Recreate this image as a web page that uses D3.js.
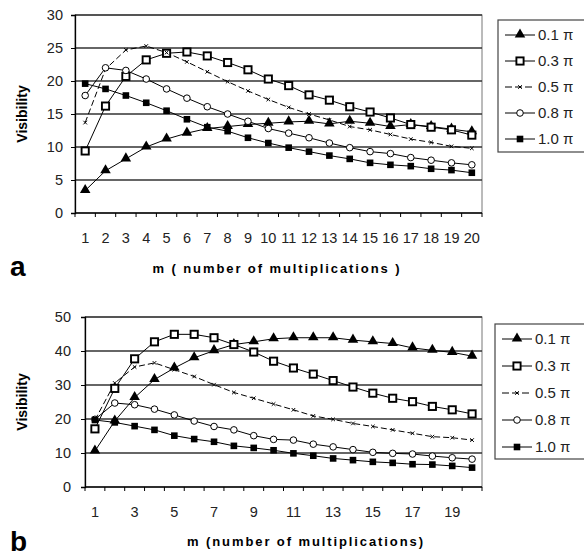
<!DOCTYPE html>
<html>
<head>
<meta charset="utf-8">
<script src="https://cdn.jsdelivr.net/npm/d3@7"></script>
<style>
  body { margin: 0; background: #fff; }
  svg { display: block; font-family: "Liberation Sans", Arial, sans-serif; }
</style>
</head>
<body>
<svg id="chart" width="584" height="556"></svg>
<script>
// categories (m = number of multiplications)
const mValues = [1, 2, 3, 4, 5, 6, 7, 8, 9, 10, 11, 12, 13, 14, 15, 16, 17, 18, 19, 20];
const bTickLabels = [1, 3, 5, 7, 9, 11, 13, 15, 17, 19];
const seriesNames = ["0.1 π", "0.3 π", "0.5 π", "0.8 π", "1.0 π"];
const yTicksA = [0, 5, 10, 15, 20, 25, 30];
const yTicksB = [0, 10, 20, 30, 40, 50];

// panel a
const a01 = [3.4, 6.4, 8.2, 10.0, 11.2, 12.1, 12.8, 13.1, 13.4, 13.6, 13.8, 13.9, 13.5, 13.9, 13.6, 13.1, 13.4, 13.1, 12.7, 12.3];
const a03 = [9.4, 16.2, 20.7, 23.2, 24.2, 24.4, 23.8, 22.8, 21.7, 20.3, 19.3, 17.9, 17.1, 16.1, 15.3, 14.4, 13.4, 13.0, 12.6, 11.8];
const a05 = [13.7, 21.8, 24.7, 25.3, 24.3, 22.9, 21.4, 19.9, 18.5, 17.2, 16.0, 15.0, 14.1, 13.1, 12.6, 11.9, 11.2, 10.7, 10.1, 9.8];
const a08 = [17.8, 22.0, 21.6, 20.3, 18.8, 17.4, 16.1, 15.0, 13.9, 12.8, 12.1, 11.4, 10.6, 9.9, 9.3, 9.0, 8.4, 8.0, 7.6, 7.3];
const a10 = [19.6, 18.8, 17.8, 16.7, 15.5, 14.2, 13.0, 12.4, 11.4, 10.6, 9.9, 9.3, 8.7, 8.2, 7.6, 7.3, 7.1, 6.7, 6.5, 6.1];

// panel b
const b01 = [10.6, 19.4, 26.3, 31.6, 35.0, 38.0, 40.1, 41.9, 42.7, 43.6, 43.9, 43.9, 43.9, 43.2, 42.7, 42.2, 40.9, 40.2, 39.6, 38.5];
const b03 = [17.1, 29.0, 37.7, 42.7, 44.9, 44.9, 43.9, 41.9, 39.7, 37.0, 35.0, 33.2, 31.3, 29.4, 27.6, 26.1, 25.1, 23.7, 22.7, 21.5];
const b05 = [19.7, 30.6, 35.3, 36.5, 34.5, 32.5, 30.1, 27.8, 26.1, 24.4, 22.7, 20.9, 19.9, 18.7, 17.8, 16.8, 15.8, 14.8, 14.5, 13.8];
const b08 = [19.9, 24.7, 24.2, 22.9, 21.2, 19.4, 17.8, 16.8, 15.1, 14.0, 13.8, 12.6, 11.8, 11.0, 10.2, 9.9, 9.7, 9.1, 8.6, 8.2];
const b10 = [19.7, 19.0, 17.9, 16.8, 15.1, 14.1, 13.3, 12.1, 11.5, 10.8, 9.9, 9.2, 8.4, 7.9, 7.4, 7.1, 6.7, 6.6, 6.2, 5.7];

const markerTypes = ["triangle", "openSquare", "cross", "circle", "square"];

const svg = d3.select("#chart");

function drawMarker(g, type, x, y) {
    if (type == "triangle") {
        g.append("path")
            .attr("d", d3.symbol().type(d3.symbolTriangle).size(48)())
            .attr("transform", "translate(" + x + "," + (y - 0.5) + ")")
            .attr("fill", "#000");
    } else if (type == "openSquare") {
        g.append("rect")
            .attr("x", x - 3.6).attr("y", y - 3.6)
            .attr("width", 7.2).attr("height", 7.2)
            .attr("fill", "#fff").attr("stroke", "#000").attr("stroke-width", 1.9);
    } else if (type == "cross") {
        g.append("path")
            .attr("d", "M" + (x - 1.8) + "," + (y - 1.8) + "L" + (x + 1.8) + "," + (y + 1.8) +
                "M" + (x + 1.8) + "," + (y - 1.8) + "L" + (x - 1.8) + "," + (y + 1.8))
            .attr("stroke", "#000").attr("stroke-width", 1);
    } else if (type == "circle") {
        g.append("circle")
            .attr("cx", x).attr("cy", y).attr("r", 3.3)
            .attr("fill", "#fff").attr("stroke", "#000").attr("stroke-width", 1);
    } else {
        g.append("rect")
            .attr("x", x - 3.3).attr("y", y - 3.3)
            .attr("width", 6.6).attr("height", 6.6)
            .attr("fill", "#000");
    }
}

function drawPanel(p) {
    const g = svg.append("g");
    const x = d3.scaleBand().domain(mValues).range([p.left, p.right]);
    const y = d3.scaleLinear().domain([0, p.yMax]).range([p.bottom, p.top]);

    // plot frame (top / right in grey)
    g.append("rect")
        .attr("x", p.left).attr("y", p.top)
        .attr("width", p.right - p.left).attr("height", p.bottom - p.top)
        .attr("fill", "none").attr("stroke", "#777").attr("stroke-width", 1);

    // gridlines
    g.selectAll(".grid")
        .data(p.yTicks.filter(d => d > 0))
        .enter().append("line")
        .attr("x1", p.left).attr("x2", p.right)
        .attr("y1", d => y(d)).attr("y2", d => y(d))
        .attr("stroke", "#333").attr("stroke-width", 1.3);

    // y axis
    const yAxis = d3.axisLeft(y).tickValues(p.yTicks).tickSize(4).tickPadding(p.yPad);
    const ya = g.append("g").attr("transform", "translate(" + p.left + ",0)").call(yAxis);
    ya.select(".domain").attr("stroke", "#000").attr("stroke-width", 1.3);
    ya.selectAll("text").attr("font-size", 14.5).attr("fill", "#222");

    // x axis: ticks on band boundaries
    g.append("line")
        .attr("x1", p.left).attr("x2", p.right)
        .attr("y1", p.bottom).attr("y2", p.bottom)
        .attr("stroke", "#000").attr("stroke-width", 1.3);
    const bounds = mValues.map(d => x(d)).concat([p.right]);
    g.selectAll(".xt")
        .data(bounds)
        .enter().append("line")
        .attr("x1", d => d).attr("x2", d => d)
        .attr("y1", p.bottom).attr("y2", p.bottom + 4)
        .attr("stroke", "#000").attr("stroke-width", 1);
    g.selectAll(".xl")
        .data(p.xLabels)
        .enter().append("text")
        .attr("x", d => x(d) + x.bandwidth() / 2)
        .attr("y", p.bottom + 30)
        .attr("text-anchor", "middle")
        .attr("font-size", 14.5)
        .attr("fill", "#222")
        .text(d => d);

    // series
    const line = d3.line()
        .x((d, i) => x(mValues[i]) + x.bandwidth() / 2)
        .y(d => y(d));
    for (let k = 0; k < p.series.length; k++) {
        g.append("path")
            .attr("d", line(p.series[k]))
            .attr("fill", "none")
            .attr("stroke", "#000")
            .attr("stroke-width", 1)
            .attr("stroke-dasharray", markerTypes[k] == "cross" ? "6,3" : null);
    }
    for (let k = 0; k < p.series.length; k++) {
        for (let i = 0; i < p.series[k].length; i++) {
            drawMarker(g, markerTypes[k], x(mValues[i]) + x.bandwidth() / 2, y(p.series[k][i]));
        }
    }

    // axis titles
    const cy = (p.top + p.bottom) / 2;
    g.append("text")
        .attr("transform", "translate(" + 27 + "," + cy + ") rotate(-90)")
        .attr("text-anchor", "middle")
        .attr("font-size", 14).attr("font-weight", "bold")
        .text("Visibility");
    g.append("text")
        .attr("x", p.titleX).attr("y", p.titleY)
        .attr("text-anchor", "middle")
        .attr("font-size", 13).attr("font-weight", "bold")
        .attr("letter-spacing", 1.9)
        .text(p.title);
    g.append("text")
        .attr("x", 10).attr("y", p.letterY)
        .attr("font-size", 28).attr("font-weight", "bold")
        .text(p.letter);

    // legend
    g.append("rect")
        .attr("x", p.legX).attr("y", p.legTop)
        .attr("width", 120).attr("height", p.legH)
        .attr("fill", "#fff").attr("stroke", "#444").attr("stroke-width", 1.2);
    for (let k = 0; k < seriesNames.length; k++) {
        const ly = p.legTop + p.legPad + k * p.legStep;
        g.append("line")
            .attr("x1", p.legX + 7).attr("x2", p.legX + 37)
            .attr("y1", ly).attr("y2", ly)
            .attr("stroke", "#000").attr("stroke-width", 1)
            .attr("stroke-dasharray", markerTypes[k] == "cross" ? "7,3" : null);
        drawMarker(g, markerTypes[k], p.legX + 22, ly);
        g.append("text")
            .attr("x", p.legX + 40).attr("y", ly + 5)
            .attr("font-size", 15).attr("fill", "#222")
            .text(seriesNames[k]);
    }
}

drawPanel({
    left: 75, right: 482, top: 15, bottom: 213, yMax: 30, yTicks: yTicksA, yPad: 8,
    xLabels: mValues, series: [a01, a03, a05, a08, a10],
    title: "m ( number of multiplications )", titleX: 277, titleY: 273,
    letter: "a", letterY: 276,
    legX: 498, legTop: 20, legH: 132, legPad: 15, legStep: 26
});

drawPanel({
    left: 85, right: 482, top: 317, bottom: 487, yMax: 50, yTicks: yTicksB, yPad: 10,
    xLabels: bTickLabels, series: [b01, b03, b05, b08, b10],
    title: "m (number of multiplications)", titleX: 306, titleY: 546,
    letter: "b", letterY: 551,
    legX: 495, legTop: 324, legH: 135, legPad: 15, legStep: 27
});
</script>
</body>
</html>
